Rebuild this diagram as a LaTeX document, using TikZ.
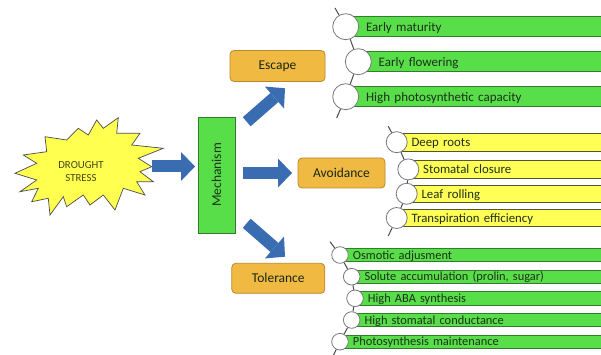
\documentclass[tikz,border=0pt]{standalone}
\usepackage{fontspec}
\setmainfont{Carlito}
\usetikzlibrary{arrows.meta}
\definecolor{gbar}{RGB}{88,222,72}
\definecolor{gbord}{RGB}{50,125,45}
\definecolor{ybar}{RGB}{255,255,85}
\definecolor{ybord}{RGB}{85,85,45}
\definecolor{obox}{RGB}{240,186,66}
\definecolor{obord}{RGB}{185,135,45}
\definecolor{barrow}{RGB}{58,108,178}
\definecolor{stary}{RGB}{255,255,80}
\definecolor{txt}{RGB}{30,48,30}
\definecolor{stxt}{RGB}{70,70,25}
\definecolor{beadc}{RGB}{120,120,120}
\definecolor{spinec}{RGB}{75,75,75}
\begin{document}
\begin{tikzpicture}[x=1pt,y=-1pt,
  bead/.style={circle, draw=beadc, fill=white, line width=0.8pt, inner sep=0pt},
  spine/.style={draw=spinec, line width=1pt},
  barbase/.style={rectangle, line width=0.8pt, anchor=west, align=left, text width=330pt, inner ysep=0pt, text=txt},
  barE/.style={barbase, draw=gbord, fill=gbar, minimum height=20pt, inner xsep=20pt, text height=10.5pt, text depth=1pt, font=\fontsize{13}{15}\selectfont},
  barA/.style={barbase, draw=ybord, fill=ybar, minimum height=17.6pt, inner xsep=14.5pt, text height=10pt, text depth=1.5pt, font=\fontsize{12.8}{15}\selectfont},
  barT/.style={barbase, draw=gbord, fill=gbar, minimum height=13.4pt, inner xsep=12.5pt, text height=9.5pt, text depth=1pt, font=\fontsize{12.4}{14}\selectfont},
  obx/.style={rectangle, rounded corners=4pt, draw=obord, fill=obox, line width=0.8pt, text=txt!80!black, font=\fontsize{13.5}{15}\selectfont},
  blk/.style={line width=12pt, draw=barrow, -{Triangle[length=14pt 0 0, width=29pt 0 0, line width=0pt 0 0]}},
]
\useasboundingbox (0,0) rectangle (601,355);
\clip (0,0) rectangle (601,355);
\fill[white] (0,0) rectangle (601,355);

% drought star
\draw[fill=stary, draw=black!70, line width=0.7pt]
 (15,173.3) -- (36.7,163.3) -- (23.3,155) -- (46.7,151.7) -- (45,136.7) -- (66.7,140) -- (78.3,128.3) -- (88.3,135) -- (96.7,120) -- (103.3,128.3) -- (118.3,117.7) -- (116.7,133.3) -- (140,133.3) -- (131.7,145) -- (163.3,148.3) -- (138.3,158.3) -- (151.7,166.7) -- (140,171.7) -- (153.3,181.7) -- (136.7,181.7) -- (145,195) -- (123.3,188.3) -- (115,210) -- (103.3,195) -- (90,205) -- (83.3,195) -- (66.7,206.7) -- (63.3,196.7) -- (50,215) -- (48.3,198.3) -- (31.7,201.7) -- (38.3,188.3) -- (20,191.7) -- (36.7,180) -- cycle;
\node[align=center, text=stxt, font=\fontsize{10.8}{13}\selectfont, inner sep=0pt] (stress) at (81,171.5) {DROUGHT\\STRESS};

% mechanism
\node[rectangle, draw=gbord, fill=gbar, line width=0.8pt, minimum width=116pt, minimum height=37pt, rotate=90, text=txt, font=\fontsize{13.5}{15}\selectfont] (mech) at (216.5,175) {Mechanism};

% category boxes
\node[obx, minimum width=95pt, minimum height=31pt] (esc) at (277.5,66) {Escape};
\node[obx, minimum width=87pt, minimum height=30pt] (avo) at (341.5,173) {Avoidance};
\node[obx, minimum width=93pt, minimum height=30pt] (tol) at (278.3,278.3) {Tolerance};

% block arrows
\coordinate (s0) at (152,166.5);
\coordinate (s1) at (195,166.5);
\draw[blk] (s0) -- (s1);
\coordinate (m0) at (243,173);
\coordinate (m1) at (292,173);
\draw[blk] (m0) -- (m1);
\coordinate (u0) at (246.7,121.7);
\coordinate (u1) at (285,88.3);
\draw[blk] (u0) -- (u1);
\coordinate (d0) at (246.7,223.3);
\coordinate (d1) at (285,256.7);
\draw[blk] (d0) -- (d1);

% Escape list
\node[barE] (eb1) at (345.7,26.7) {Early maturity};
\node[barE] (eb2) at (358.3,61.7) {Early flowering};
\node[barE] (eb3) at (345.7,96.7) {High photosynthetic capacity};
\coordinate (et) at (335,8);
\coordinate (ee) at (336.7,118);
\node[bead, minimum size=26pt] (ec1) at (345.7,26.7) {};
\node[bead, minimum size=26pt] (ec2) at (358.3,61.7) {};
\node[bead, minimum size=26pt] (ec3) at (345.7,96.7) {};
\draw[spine] (et) -- (ec1) -- (ec2) -- (ec3) -- (ee);

% Avoidance list
\node[barA] (ab1) at (396.7,142.2) {Deep roots};
\node[barA] (ab2) at (408.3,169.4) {Stomatal closure};
\node[barA] (ab3) at (406.7,193.8) {Leaf rolling};
\node[barA] (ab4) at (396.7,218) {Transpiration efficiency};
\coordinate (at) at (388.3,126.3);
\coordinate (ae) at (388.3,236);
\node[bead, minimum size=21pt] (ac1) at (396.7,142.2) {};
\node[bead, minimum size=21pt] (ac2) at (408.3,169.4) {};
\node[bead, minimum size=21pt] (ac3) at (406.7,193.8) {};
\node[bead, minimum size=21pt] (ac4) at (396.7,218) {};
\draw[spine] (at) -- (ac1) -- (ac2) -- (ac3) -- (ac4) -- (ae);

% Tolerance list
\node[barT] (tb1) at (340,255) {Osmotic adjusment};
\node[barT] (tb2) at (351.7,276.7) {Solute accumulation (prolin, sugar)};
\node[barT] (tb3) at (355,298.3) {High ABA synthesis};
\node[barT] (tb4) at (351.7,320) {High stomatal conductance};
\node[barT] (tb5) at (340,341.7) {Photosynthesis maintenance};
\coordinate (tt) at (330,241.7);
\coordinate (te) at (333,356);
\node[bead, minimum size=16.6pt] (tc1) at (340,255) {};
\node[bead, minimum size=16.6pt] (tc2) at (351.7,276.7) {};
\node[bead, minimum size=16.6pt] (tc3) at (355,298.3) {};
\node[bead, minimum size=16.6pt] (tc4) at (351.7,320) {};
\node[bead, minimum size=16.6pt] (tc5) at (340,341.7) {};
\draw[spine] (tt) -- (tc1) -- (tc2) -- (tc3) -- (tc4) -- (tc5) -- (te);
\end{tikzpicture}
\end{document}
